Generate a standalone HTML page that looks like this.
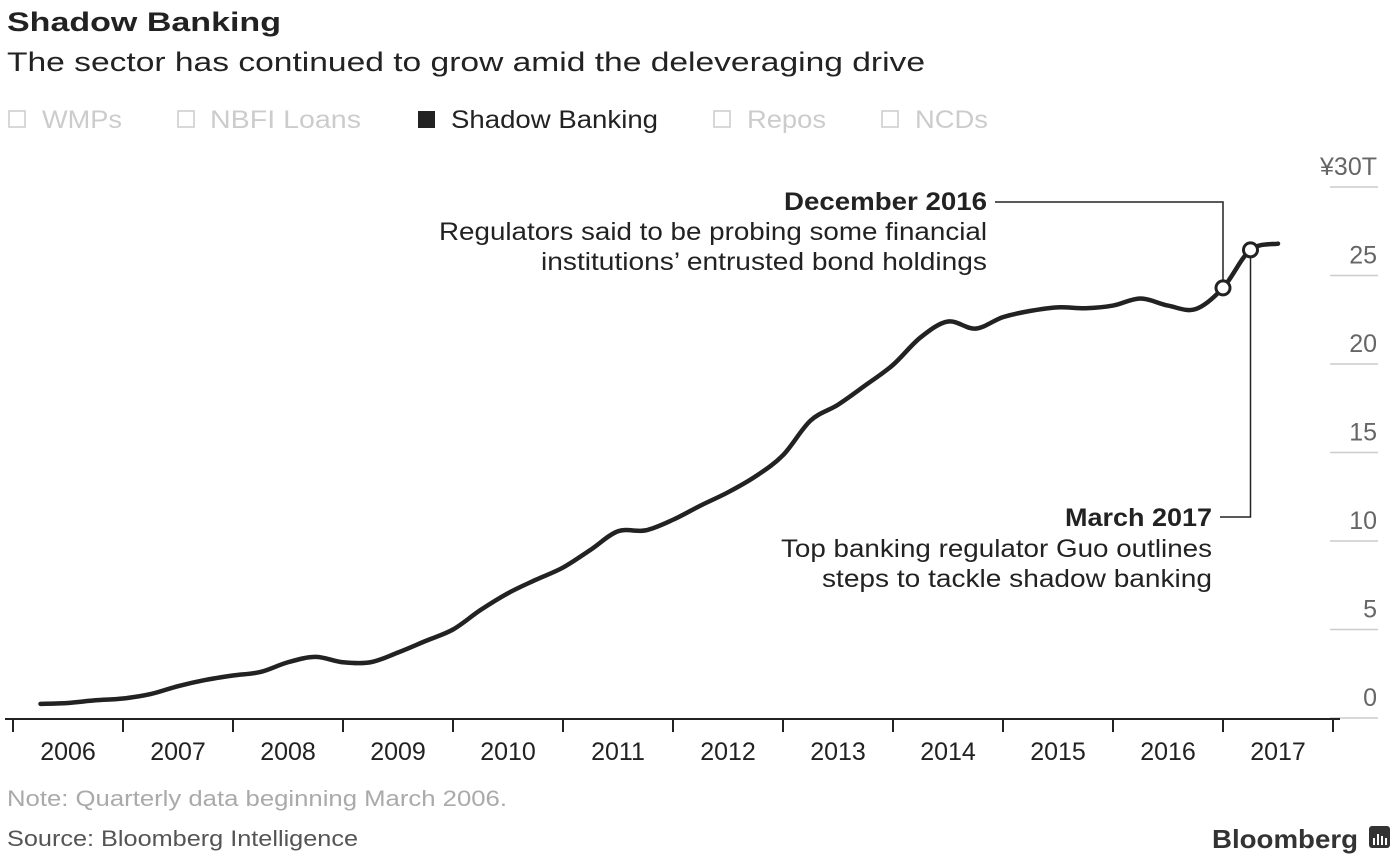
<!DOCTYPE html>
<html><head><meta charset="utf-8">
<style>
html,body{margin:0;padding:0;background:#fff;}
svg{display:block;font-family:"Liberation Sans",Arial,sans-serif;}
</style></head>
<body>
<svg id="chart" width="1400" height="861" viewBox="0 0 1400 861" xmlns="http://www.w3.org/2000/svg">
  <text x="7" y="31" font-size="27" font-weight="bold" fill="#222" textLength="274" lengthAdjust="spacingAndGlyphs">Shadow Banking</text>
  <text x="7" y="71" font-size="27" fill="#222" textLength="918" lengthAdjust="spacingAndGlyphs">The sector has continued to grow amid the deleveraging drive</text>

  <g font-size="25">
    <g><rect x="9" y="111" width="16" height="16" fill="none" stroke="#ccc" stroke-width="1.5"/><text x="42" y="128" fill="#ccc" textLength="80" lengthAdjust="spacingAndGlyphs">WMPs</text></g>
    <g><rect x="178" y="111" width="16" height="16" fill="none" stroke="#ccc" stroke-width="1.5"/><text x="210" y="128" fill="#ccc" textLength="151" lengthAdjust="spacingAndGlyphs">NBFI  Loans</text></g>
    <g><rect x="418" y="111" width="17" height="17" fill="#222"/><text x="451" y="128" fill="#222" textLength="207" lengthAdjust="spacingAndGlyphs">Shadow Banking</text></g>
    <g><rect x="714" y="111" width="16" height="16" fill="none" stroke="#ccc" stroke-width="1.5"/><text x="747" y="128" fill="#ccc" textLength="79" lengthAdjust="spacingAndGlyphs">Repos</text></g>
    <g><rect x="882" y="111" width="16" height="16" fill="none" stroke="#ccc" stroke-width="1.5"/><text x="915" y="128" fill="#ccc" textLength="73" lengthAdjust="spacingAndGlyphs">NCDs</text></g>
  </g>

  <g id="yaxis"></g>
  <g id="xaxis"></g>
  <g id="annot"></g>
  <g id="series"></g>

  <text x="7" y="806" font-size="22" fill="#aaa" textLength="500" lengthAdjust="spacingAndGlyphs">Note: Quarterly data beginning March 2006.</text>
  <text x="7" y="846" font-size="22" fill="#555" textLength="351" lengthAdjust="spacingAndGlyphs">Source: Bloomberg Intelligence</text>
  <text x="1212" y="848" font-size="26" font-weight="bold" fill="#333" textLength="146" lengthAdjust="spacingAndGlyphs">Bloomberg</text>
  <g>
    <rect x="1369" y="826" width="21" height="22" rx="3" fill="#333"/>
    <rect x="1373" y="838" width="2" height="7" fill="#fff"/><rect x="1377" y="834" width="2" height="11" fill="#fff"/><rect x="1381" y="836" width="2" height="9" fill="#fff"/><rect x="1385" y="838" width="2" height="7" fill="#fff"/>
  </g>
</svg>
<script>
const years = ["2006","2007","2008","2009","2010","2011","2012","2013","2014","2015","2016","2017"];
const yTicks = [0,5,10,15,20,25,30];
const yTickLabels = ["0","5","10","15","20","25","¥30T"];
const values = [0.8,0.85,1.0,1.1, 1.35,1.8,2.15,2.4, 2.6,3.15,3.45,3.15, 3.15,3.7,4.35,5.0,
  6.1,7.05,7.8,8.5, 9.5,10.55,10.6,11.2, 12.0,12.75,13.65,14.85, 16.8,17.7,18.8,19.95,
  21.5,22.4,22.0,22.65, 23.0,23.2,23.15,23.3, 23.7,23.3,23.1,24.3, 26.45,26.8];
const markerIdx = [43,44];

const NS="http://www.w3.org/2000/svg";
const X0=13, YEARW=110, Y0=718, PXU=17.7;
const xq = i => X0 + YEARW*(i+1)/4;
const yv = v => Y0 - v*PXU;
function mk(tag, attrs, parent, txt){const e=document.createElementNS(NS,tag);for(const k in attrs)e.setAttribute(k,attrs[k]);if(txt!=null)e.textContent=txt;parent.appendChild(e);return e;}

const ya=document.getElementById('yaxis');
yTicks.forEach((t,i)=>{
  const l=mk('line',{x1:1330,x2:1378,y1:yv(t),y2:yv(t),stroke:'#ccc','stroke-width':1.5},ya);
  
  
  if(t===0) return;
  const tx=mk('text',{x:1377,y:yv(t)-12,'font-size':25,fill:'#666','text-anchor':'end'},ya,yTickLabels[i]);
  
  
});
const z=mk('text',{x:1377,y:yv(0)-12,'font-size':25,fill:'#666','text-anchor':'end'},ya,yTickLabels[0]);



const xa=document.getElementById('xaxis');
const ax=mk('line',{x1:5,x2:1340,y1:Y0+1,y2:Y0+1,stroke:'#222','stroke-width':2},xa);


for(let i=0;i<=years.length;i++){
  const x=X0+i*YEARW;
  const t=mk('line',{x1:x,x2:x,y1:Y0,y2:Y0+14,stroke:'#222','stroke-width':2},xa);
  
  
  if(i<years.length){
    const tx=mk('text',{x:x+YEARW/2,y:Y0+42,'font-size':25,fill:'#222','text-anchor':'middle'},xa,years[i]);
    
    
  }
}

// smooth line (catmull-rom)
const pts=values.map((v,i)=>[xq(i),yv(v)]);
let d=`M${pts[0][0]},${pts[0][1]}`;
for(let i=0;i<pts.length-1;i++){
  const p0=pts[i-1]||pts[i],p1=pts[i],p2=pts[i+1],p3=pts[i+2]||p2;
  const c1=[p1[0]+(p2[0]-p0[0])/6,p1[1]+(p2[1]-p0[1])/6];
  const c2=[p2[0]-(p3[0]-p1[0])/6,p2[1]-(p3[1]-p1[1])/6];
  d+=` C${c1[0]},${c1[1]} ${c2[0]},${c2[1]} ${p2[0]},${p2[1]}`;
}
const sg=document.getElementById('series');
const an=document.getElementById('annot');
// annotations leader lines
const m1=pts[markerIdx[0]], m2=pts[markerIdx[1]];
const l1=mk('polyline',{points:`995,202 ${m1[0]},202 ${m1[0]},${m1[1]}`,fill:'none',stroke:'#222','stroke-width':1.5},an);


const l2=mk('polyline',{points:`${m2[0]},${m2[1]} ${m2[0]},517 1220,517`,fill:'none',stroke:'#222','stroke-width':1.5},an);


const texts=[
 ['dec-2016-title',987,210,'December 2016','bold',203],
 ['dec-2016-text',987,240,'Regulators said to be probing some financial','normal',548],
 ['dec-2016-text',987,270,'institutions’ entrusted bond holdings','normal',446],
 ['mar-2017-title',1212,526,'March 2017','bold',147],
 ['mar-2017-text',1212,557,'Top banking regulator Guo outlines','normal',431],
 ['mar-2017-text',1212,587,'steps to tackle shadow banking','normal',390]];
texts.forEach(t=>{
  const e=mk('text',{x:t[1],y:t[2],'font-size':25,'font-weight':t[4],fill:'#222','text-anchor':'end',textLength:t[5],lengthAdjust:'spacingAndGlyphs'},an,t[3]);
  
  
});
const line=mk('path',{d:d,fill:'none',stroke:'#222','stroke-width':4.5,'stroke-linecap':'round','stroke-linejoin':'round'},sg);


markerIdx.forEach(i=>{
  const c=mk('circle',{cx:pts[i][0],cy:pts[i][1],r:7,fill:'#fff',stroke:'#222','stroke-width':3},sg);
  
  
});
</script>
</body></html>
